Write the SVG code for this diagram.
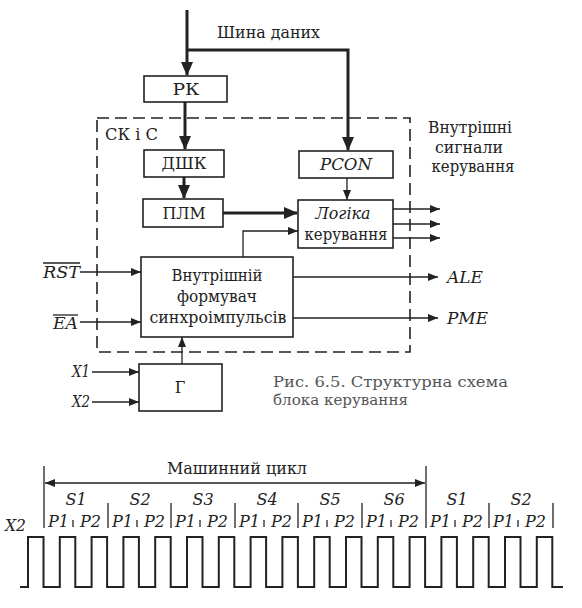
<svg xmlns="http://www.w3.org/2000/svg" width="582" height="608" viewBox="0 0 582 608" font-family="DejaVu Serif, Liberation Serif, serif">
<defs>
<style>
text{font-family:'DejaVu Serif','Liberation Serif','Noto Serif',serif}
.t{font-size:16px;fill:#222}
.i{font-style:italic}
.c{text-anchor:middle}
.box{fill:#fff;stroke:#222;stroke-width:1.6}
.ln{fill:none;stroke:#222;stroke-width:1.3}
.bus{fill:none;stroke:#222;stroke-width:3}
.dash{fill:none;stroke:#222;stroke-width:1.6;stroke-dasharray:12,6}
.wave{fill:none;stroke:#222;stroke-width:2}
.cap{font-size:14px;fill:#555}
</style>
<marker id="a" markerWidth="10" markerHeight="8" refX="10" refY="4" orient="auto-start-reverse" markerUnits="userSpaceOnUse"><path d="M0,0 L10,4 L0,8 z" fill="#222"/></marker>
<marker id="A" markerWidth="14" markerHeight="12" refX="13" refY="6" orient="auto" markerUnits="userSpaceOnUse"><path d="M0,0 L14,6 L0,12 z" fill="#222"/></marker>
</defs>
<rect width="582" height="608" fill="#fff"/>

<g id="boundary">
<rect x="97" y="118" width="313" height="234" class="dash"/>
<text x="105" y="140" class="t" textLength="53" lengthAdjust="spacingAndGlyphs">СК і С</text>
</g>

<g id="connectors">
<path d="M187,10 V75" class="bus" marker-end="url(#A)"/>
<path d="M187,50 H348 V150" class="bus" marker-end="url(#A)"/>
<path d="M185,102 V149" class="bus" marker-end="url(#A)"/>
<path d="M184,177 V198" class="bus" marker-end="url(#A)"/>
<path d="M223,213 H297" class="bus" marker-end="url(#A)"/>
<path d="M347,178 V200" class="ln" marker-end="url(#a)"/>
<path d="M243,257 V231 H298" class="ln" marker-end="url(#a)"/>
<path d="M393,209 H440" class="ln" marker-end="url(#a)"/>
<path d="M393,224 H440" class="ln" marker-end="url(#a)"/>
<path d="M393,238 H440" class="ln" marker-end="url(#a)"/>
<path d="M293,277 H438" class="ln" marker-end="url(#a)"/>
<path d="M293,318 H438" class="ln" marker-end="url(#a)"/>
<path d="M80,272 H141" class="ln" marker-end="url(#a)"/>
<path d="M80,322 H141" class="ln" marker-end="url(#a)"/>
<path d="M92,372 H139" class="ln" marker-end="url(#a)"/>
<path d="M92,402 H139" class="ln" marker-end="url(#a)"/>
<path d="M182,364 V337" class="ln" marker-end="url(#a)"/>
</g>

<text x="217" y="38" class="t" textLength="103" lengthAdjust="spacingAndGlyphs">Шина даних</text>

<g id="rk">
<rect x="144" y="76" width="83" height="26" class="box"/>
<text x="186" y="95" class="t c" textLength="27" lengthAdjust="spacingAndGlyphs">РК</text>
</g>
<g id="dshk">
<rect x="144" y="150" width="80" height="27" class="box"/>
<text x="184" y="169" class="t c" textLength="45" lengthAdjust="spacingAndGlyphs">ДШК</text>
</g>
<g id="plm">
<rect x="143" y="199" width="80" height="28" class="box"/>
<text x="184" y="219" class="t c" textLength="43" lengthAdjust="spacingAndGlyphs">ПЛМ</text>
</g>
<g id="pcon">
<rect x="299" y="151" width="94" height="27" class="box"/>
<text x="346" y="170" class="t i c" textLength="52" lengthAdjust="spacingAndGlyphs">PCON</text>
</g>
<g id="logic">
<rect x="298" y="200" width="95" height="48" class="box"/>
<text x="343" y="219" class="t i c" textLength="55" lengthAdjust="spacingAndGlyphs">Логіка</text>
<text x="346" y="240" class="t c" textLength="83" lengthAdjust="spacingAndGlyphs">керування</text>
</g>
<g id="former">
<rect x="141" y="257" width="152" height="80" class="box"/>
<text x="217" y="281" class="t c" textLength="91" lengthAdjust="spacingAndGlyphs">Внутрішній</text>
<text x="217" y="302" class="t c" textLength="80" lengthAdjust="spacingAndGlyphs">формувач</text>
<text x="218" y="323" class="t c" textLength="137" lengthAdjust="spacingAndGlyphs">синхроімпульсів</text>
</g>
<g id="gen">
<rect x="139" y="364" width="83" height="47" class="box"/>
<text x="180" y="393" class="t c">Г</text>
</g>

<g id="labels">
<text x="470" y="133" class="t c" textLength="84" lengthAdjust="spacingAndGlyphs">Внутрішні</text>
<text x="469" y="153" class="t c" textLength="68" lengthAdjust="spacingAndGlyphs">сигнали</text>
<text x="473" y="172" class="t c" textLength="83" lengthAdjust="spacingAndGlyphs">керування</text>
<text x="447" y="283" class="t i" textLength="36" lengthAdjust="spacingAndGlyphs">ALE</text>
<text x="447" y="324" class="t i" textLength="41" lengthAdjust="spacingAndGlyphs">PME</text>
<text x="43" y="278" class="t i" textLength="37" lengthAdjust="spacingAndGlyphs">RST</text>
<line x1="43" y1="263" x2="80" y2="263" class="ln"/>
<text x="53" y="329" class="t i" textLength="25" lengthAdjust="spacingAndGlyphs">EA</text>
<line x1="53" y1="315" x2="78" y2="315" class="ln"/>
<text x="72" y="377" class="t i" textLength="18" lengthAdjust="spacingAndGlyphs">X1</text>
<text x="72" y="407" class="t i" textLength="18" lengthAdjust="spacingAndGlyphs">X2</text>
<text x="273" y="387" class="cap" textLength="235" lengthAdjust="spacingAndGlyphs">Рис. 6.5. Структурна схема</text>
<text x="273" y="405" class="cap" textLength="135" lengthAdjust="spacingAndGlyphs">блока керування</text>
</g>

<g id="timing">
<line x1="44" y1="466" x2="44" y2="528" class="ln"/>
<line x1="426" y1="466" x2="426" y2="528" class="ln"/>
<line x1="45" y1="483" x2="425" y2="483" class="ln" marker-start="url(#a)" marker-end="url(#a)"/>
<text x="167" y="474" class="t" textLength="140" lengthAdjust="spacingAndGlyphs">Машинний цикл</text>
<g class="ln">
<line x1="108" y1="503" x2="108" y2="528"/>
<line x1="171" y1="503" x2="171" y2="528"/>
<line x1="235" y1="503" x2="235" y2="528"/>
<line x1="298" y1="503" x2="298" y2="528"/>
<line x1="362" y1="503" x2="362" y2="528"/>
<line x1="489" y1="503" x2="489" y2="528"/>
<line x1="553" y1="503" x2="553" y2="528"/>
</g>
<text x="5" y="531" class="t i" textLength="21" lengthAdjust="spacingAndGlyphs">X2</text>
<g class="t i c">
<text x="76" y="505">S1</text>
<text x="140" y="505">S2</text>
<text x="203" y="505">S3</text>
<text x="267" y="505">S4</text>
<text x="330" y="505">S5</text>
<text x="394" y="505">S6</text>
<text x="457" y="505">S1</text>
<text x="521" y="505">S2</text>
</g>
<g class="t i">
<text x="48" y="527">P1</text><text x="101" y="527" text-anchor="end">P2</text>
<text x="112" y="527">P1</text><text x="165" y="527" text-anchor="end">P2</text>
<text x="175" y="527">P1</text><text x="228" y="527" text-anchor="end">P2</text>
<text x="239" y="527">P1</text><text x="292" y="527" text-anchor="end">P2</text>
<text x="302" y="527">P1</text><text x="355" y="527" text-anchor="end">P2</text>
<text x="366" y="527">P1</text><text x="419" y="527" text-anchor="end">P2</text>
<text x="430" y="527">P1</text><text x="483" y="527" text-anchor="end">P2</text>
<text x="493" y="527">P1</text><text x="546" y="527" text-anchor="end">P2</text>
</g>
<g class="ln">
<line x1="73" y1="520" x2="73" y2="527"/>
<line x1="137" y1="520" x2="137" y2="527"/>
<line x1="200" y1="520" x2="200" y2="527"/>
<line x1="264" y1="520" x2="264" y2="527"/>
<line x1="327" y1="520" x2="327" y2="527"/>
<line x1="391" y1="520" x2="391" y2="527"/>
<line x1="455" y1="520" x2="455" y2="527"/>
<line x1="518" y1="520" x2="518" y2="527"/>
</g>
<path class="wave" d="M20,587 H28 V537 H43.5 V587 H59.8 V537 H75.3 V587 H91.6 V537 H107.1 V587 H123.4 V537 H138.9 V587 H155.2 V537 H170.7 V587 H187 V537 H202.5 V587 H218.8 V537 H234.3 V587 H250.6 V537 H266.1 V587 H282.4 V537 H297.9 V587 H314.2 V537 H329.7 V587 H346 V537 H361.5 V587 H377.8 V537 H393.3 V587 H409.6 V537 H425.1 V587 H441.4 V537 H456.9 V587 H473.2 V537 H488.7 V587 H505 V537 H520.5 V587 H536.8 V537 H552.3 V587 H563"/>
</g>
</svg>
